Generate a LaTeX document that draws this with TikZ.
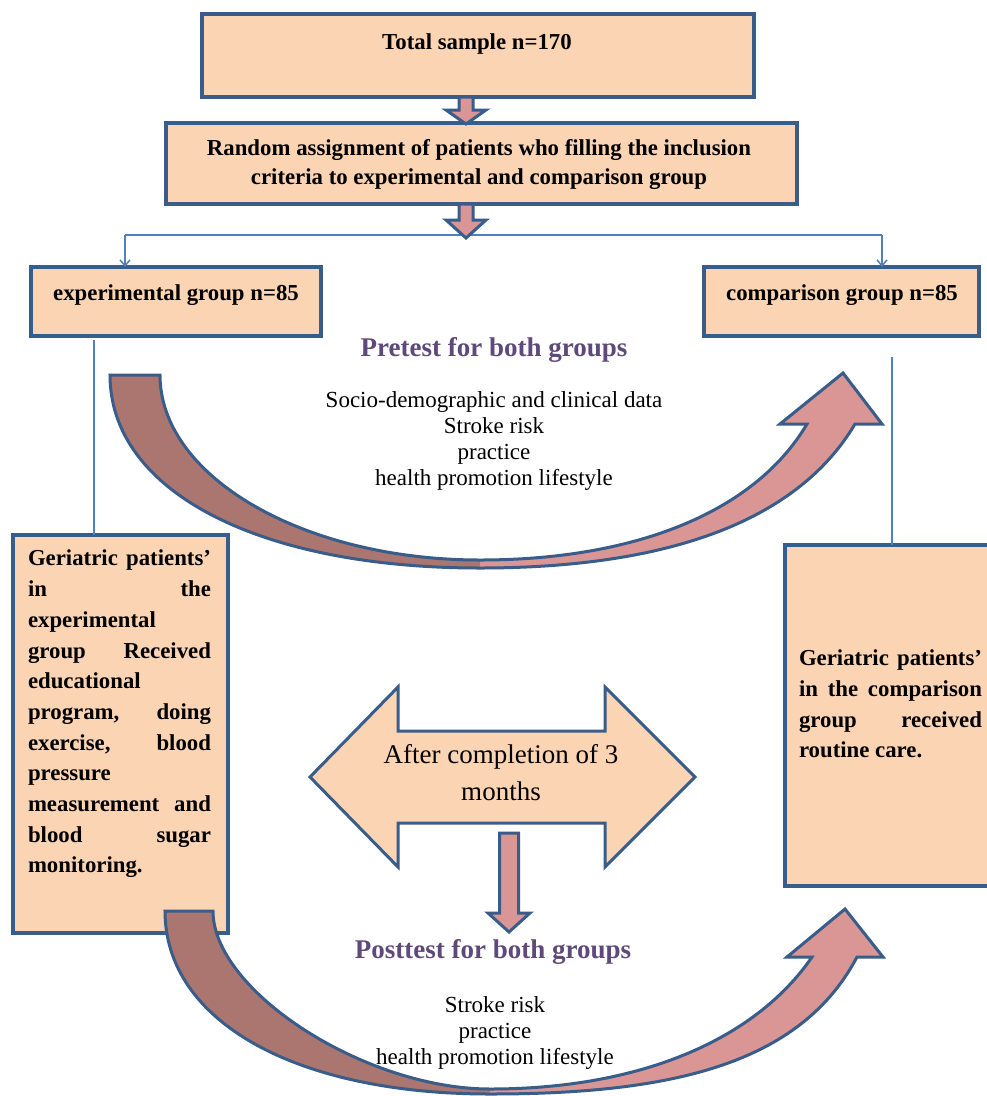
\documentclass[tikz,border=0pt]{standalone}
\usepackage{fontspec}
\setmainfont{Liberation Serif}
\usetikzlibrary{arrows.meta,calc}
\definecolor{peach}{HTML}{FBD4B4}
\definecolor{bord}{HTML}{385D8A}
\definecolor{pinkfill}{HTML}{D99694}
\definecolor{darkfill}{HTML}{AB7570}
\definecolor{thinblue}{HTML}{4F81BD}
\definecolor{purp}{HTML}{5F497A}
\tikzset{
  box/.style={draw=bord, fill=peach, line width=3.5pt, rectangle, inner sep=0pt, outer sep=0pt, anchor=north west},
  boxtext/.style={font=\fontsize{22.8pt}{29pt}\selectfont\bfseries, inner sep=0pt, align=center},
  paratext/.style={font=\fontsize{22.8pt}{30.7pt}\selectfont\bfseries, inner sep=0pt, align=left},
  listtext/.style={font=\fontsize{23pt}{26pt}\selectfont, inner sep=0pt, align=center},
  headtext/.style={font=\fontsize{27pt}{32pt}\selectfont\bfseries, text=purp, inner sep=0pt},
  fatarrow/.style={draw=bord, fill=pinkfill, line width=3pt, line join=miter},
  thinline/.style={draw=thinblue, line width=1.5pt},
  thinarrow/.style={thinline, -{Straight Barb[length=6pt,width=10pt]}},
  darkpart/.style={fill=darkfill},
  pinkpart/.style={fill=pinkfill},
  curveoutline/.style={draw=bord, line width=3pt, line join=miter},
}
\begin{document}
\begin{tikzpicture}[x=1pt,y=-1pt]
\useasboundingbox[fill=white] (0,0) rectangle (987,1096);

% top boxes
\node[box, minimum width=552pt, minimum height=83pt] (tot) at (202,14) {};
\node[boxtext] (tottext) at (477,44) {Total sample n=170};
\node[box, minimum width=631pt, minimum height=81pt] (rand) at (166,123) {};
\node[boxtext] (randtext) at (479,164) {Random assignment of patients who filling the inclusion\\criteria to experimental and comparison group};

% block arrows between boxes
\begin{scope}[shift={(tot.south)}]
  \draw[fatarrow] (-19,0) -- (-5,0) -- (-5,13) -- (8,13) -- (-12,27) -- (-32,13) -- (-19,13) -- cycle;
\end{scope}

% split line
\coordinate (splitL) at (125,235);
\coordinate (splitR) at (882,235);
\draw[thinline] (splitL) -- (splitR);

\begin{scope}[shift={(rand.south)}]
  \draw[fatarrow] (-22.5,0) -- (-8.5,0) -- (-8.5,16) -- (4.5,16) -- (-15.5,34) -- (-35.5,16) -- (-22.5,16) -- cycle;
\end{scope}

% group boxes
\node[box, minimum width=290pt, minimum height=69pt] (exp) at (31,267) {};
\node[boxtext] (exptext) at (176,295) {experimental group n=85};
\node[box, minimum width=275pt, minimum height=69pt] (comp) at (704,267) {};
\node[boxtext] (comptext) at (842,295) {comparison group n=85};

\draw[thinarrow] (splitL) -- (splitL |- exp.north);
\draw[thinarrow] (splitR) -- (splitR |- comp.north);

% pretest texts
\node[headtext] (pre) at (494,350) {Pretest for both groups};
\node[listtext] (prelist) at (494,441) {Socio-demographic and clinical data\\Stroke risk\\practice\\health promotion lifestyle};

% geriatric boxes
\node[box, minimum width=215pt, minimum height=398pt] (gl) at (13,535) {};
\node[paratext] (gltext) at (119.5,714) {%
\makebox[183pt][s]{Geriatric patients’}\\
\makebox[183pt][l]{in\hfill the}\\
\makebox[183pt][l]{experimental}\\
\makebox[183pt][l]{group\hfill Received}\\
\makebox[183pt][l]{educational}\\
\makebox[183pt][l]{program,\hfill doing}\\
\makebox[183pt][l]{exercise,\hfill blood}\\
\makebox[183pt][l]{pressure}\\
\makebox[183pt][l]{measurement\hfill and}\\
\makebox[183pt][l]{blood\hfill sugar}\\
\makebox[183pt][l]{monitoring.}};
\node[box, minimum width=215pt, minimum height=341pt] (gr) at (785,545) {};
\node[paratext] (grtext) at (890.5,704) {%
\makebox[183pt][s]{Geriatric patients’}\\
\makebox[183pt][s]{in the comparison}\\
\makebox[183pt][l]{group\hfill received}\\
\makebox[183pt][l]{routine care.}};

% vertical thin lines
\coordinate (vl) at (94,340);
\coordinate (vr) at (892,357);
\draw[thinline] (vl) -- (vl |- gl.north);
\draw[thinline] (vr) -- (vr |- gr.north);

% top curved arrow
\fill[darkpart] (110,375) -- (160,375) .. controls (160,477) and (304,560) .. (480,560) -- (480,568) .. controls (258,568) and (110,491) .. (110,375) -- cycle;
\fill[pinkpart] (480,568) .. controls (660,568) and (795,525) .. (855,424) -- (882,424) -- (843,373) -- (780,424) -- (807,424) .. controls (753,515) and (630,560) .. (480,560) -- cycle;
\draw[curveoutline] (110,375) .. controls (110,491) and (258,568) .. (480,568) .. controls (660,568) and (795,525) .. (855,424) -- (882,424) -- (843,373) -- (780,424) -- (807,424) .. controls (753,515) and (630,560) .. (480,560) .. controls (304,560) and (160,477) .. (160,375) -- cycle;

% double arrow
\coordinate (dblc) at (502,777);
\begin{scope}[shift={(dblc)}]
  \draw[draw=bord, fill=peach, line width=3pt, line join=miter] (-192,0) -- (-104,-90) -- (-104,-46) -- (103,-46) -- (103,-90) -- (193,0) -- (103,90) -- (103,46) -- (-104,46) -- (-104,90) -- cycle;
  \draw[fatarrow] (-2.5,56) -- (16.5,56) -- (16.5,136) -- (28,136) -- (7,155) -- (-14,136) -- (-2.5,136) -- cycle;
\end{scope}
\node[font=\fontsize{27pt}{37pt}\selectfont, inner sep=0pt, align=center] (dbltext) at (501,773) {After completion of 3\\months};

% posttest texts
\node[headtext] (post) at (493,952) {Posttest for both groups};
\node[listtext] (postlist) at (495,1033) {Stroke risk\\practice\\health promotion lifestyle};

% bottom curved arrow
\fill[darkpart] (165,911) -- (213,911) .. controls (213,991) and (365,1089) .. (490,1089) -- (490,1094) .. controls (295,1094) and (165,1021) .. (165,911) -- cycle;
\fill[pinkpart] (490,1094) .. controls (670,1094) and (800,1065) .. (857,957) -- (883,957) -- (845,909) -- (787,957) -- (812,957) .. controls (755,1040) and (640,1089) .. (490,1089) -- cycle;
\draw[curveoutline] (165,911) .. controls (165,1021) and (295,1094) .. (490,1094) .. controls (670,1094) and (800,1065) .. (857,957) -- (883,957) -- (845,909) -- (787,957) -- (812,957) .. controls (755,1040) and (640,1089) .. (490,1089) .. controls (365,1089) and (213,991) .. (213,911) -- cycle;
\end{tikzpicture}
\end{document}
